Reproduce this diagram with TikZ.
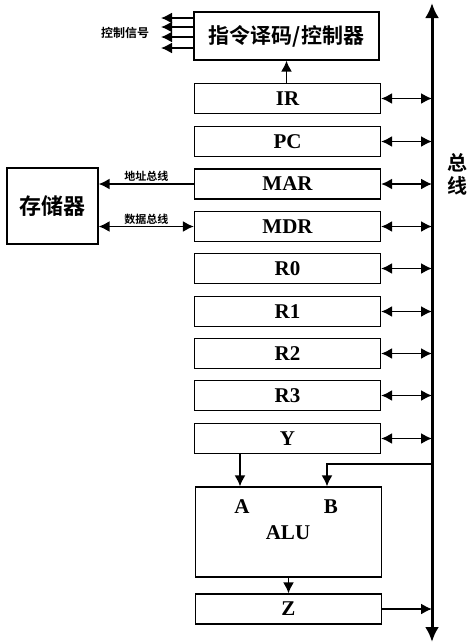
\documentclass[tikz,border=0pt]{standalone}
\usepackage{fontspec}
\setmainfont{Liberation Serif}
\newfontfamily\cjk{Noto Sans CJK SC}[BoldFont={Noto Sans CJK SC Bold}]
\usetikzlibrary{arrows.meta}
\begin{document}
\begin{tikzpicture}[x=1pt,y=-1pt,
  box/.style={draw,line width=1.3pt,minimum width=186pt,minimum height=30pt,inner sep=0pt,font=\fontsize{21}{21}\selectfont\bfseries},
  conn/.style={line width=1.6pt,-{Latex[length=11pt,width=11pt]}},
  dconn/.style={line width=1.6pt,{Latex[length=11pt,width=11pt]}-{Latex[length=11pt,width=11pt]}},
  smallcn/.style={font=\cjk\bfseries\fontsize{11}{11}\selectfont,inner sep=0pt}]
\useasboundingbox (0,0) rectangle (473,643);
% bus
\coordinate (bustop) at (432,3);
\coordinate (busbot) at (432,642);
\draw[line width=3pt,{Latex[length=15pt,width=14pt]}-{Latex[length=15pt,width=14pt]}] (busbot) -- (bustop);
\node[font=\cjk\bfseries\fontsize{20}{20}\selectfont,inner sep=0pt] (bus1) at (457,163) {总};
\node[font=\cjk\bfseries\fontsize{20}{20}\selectfont,inner sep=0pt] (bus2) at (457,186) {线};
% control unit
\node[box,minimum width=185pt,minimum height=48pt,font=\cjk\bfseries\fontsize{21}{21}\selectfont] (cu) at (286.5,36) {指令译码/控制器};
% registers
\node[box] (IR) at (287.5,98.5) {IR};
\node[box] (PC) at (287.5,141.5) {PC};
\node[box] (MAR) at (287.5,184) {MAR};
\node[box] (MDR) at (287.5,226.5) {MDR};
\node[box] (R0) at (287.5,268.5) {R0};
\node[box] (R1) at (287.5,311.5) {R1};
\node[box] (R2) at (287.5,353.5) {R2};
\node[box] (R3) at (287.5,395.5) {R3};
\node[box] (Y) at (287.5,438.5) {Y};
\node[box,minimum height=90pt] (ALU) at (288.5,532) {};
\node[box] (Z) at (288.5,609) {Z};
\node[font=\fontsize{21}{21}\selectfont\bfseries] (A) at (242,507) {A};
\node[font=\fontsize{21}{21}\selectfont\bfseries] (B) at (331,507) {B};
\node[font=\fontsize{21}{21}\selectfont\bfseries] (alut) at (288,533) {ALU};
% memory
\node[draw,line width=1.3pt,minimum width=91pt,minimum height=76pt,inner sep=0pt,font=\cjk\bfseries\fontsize{22}{22}\selectfont] (mem) at (52.5,206) {存储器};
% bus connections
\foreach \r in {IR,PC,MAR,MDR,R0,R1,R2,R3,Y}{
  \draw[dconn] (\r.east) -- (\r.east -| bustop);
}
\draw[conn] (Z.east) -- (Z.east -| bustop);
\draw[conn] (IR.north -| cu.south) -- (cu.south);
% memory connections
\draw[conn] (MAR.west) -- (MAR.west -| mem.east) node[midway,above=1.5pt,smallcn] (addr) {地址总线};
\draw[dconn] (MDR.west) -- (MDR.west -| mem.east) node[midway,above=1.5pt,smallcn] (data) {数据总线};
% control signals
\coordinate (cs) at (161,0);
\foreach \yy in {18,27,37,48}{
  \draw[conn] (cu.west |- 0,\yy) -- (cs |- 0,\yy);
}
\node[smallcn,font=\cjk\bfseries\fontsize{12}{12}\selectfont] (ctl) at (125,33) {控制信号};
% ALU connections
\coordinate (ax) at (240,0);
\coordinate (bx) at (327,0);
\coordinate (bj) at (432,464);
\draw[conn] (Y.south -| ax) -- (ALU.north -| ax);
\draw[conn] (bj) -- (bj -| bx) -- (ALU.north -| bx);
\draw[conn] (ALU.south) -- (Z.north);
\end{tikzpicture}
\end{document}
